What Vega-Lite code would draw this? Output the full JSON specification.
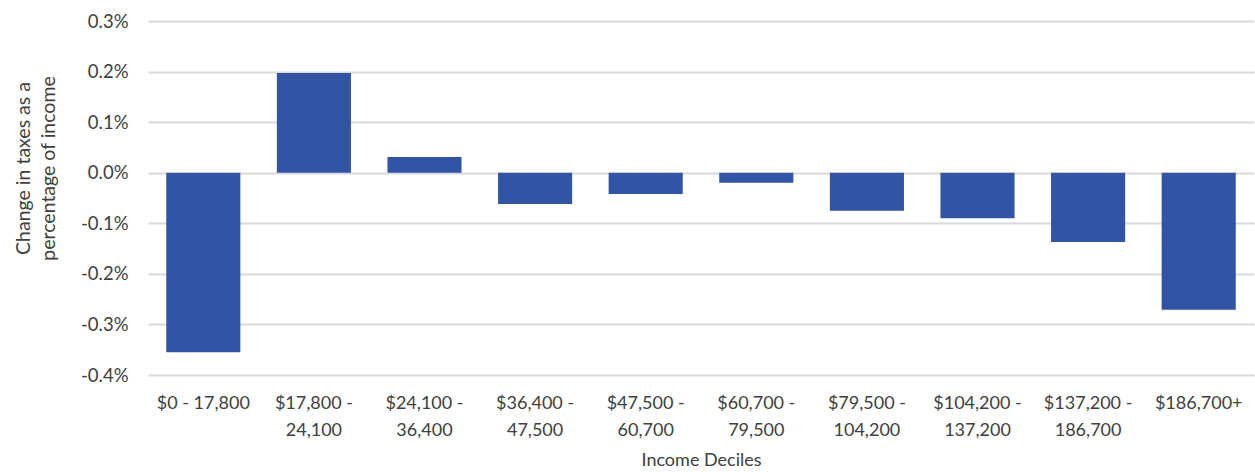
{
  "$schema": "https://vega.github.io/schema/vega-lite/v6.json",
  "autosize": {"type": "none"},
  "padding": {"left": 148, "top": 21, "right": 1, "bottom": 97},
  "width": 1106,
  "height": 354,
  "background": "white",
  "config": {
    "font": "Lato",
    "view": {"stroke": null}
  },
  "data": {
    "values": [
      {"decile": "$0 - 17,800", "change": -0.00355},
      {"decile": "$17,800 - 24,100", "change": 0.00197},
      {"decile": "$24,100 - 36,400", "change": 0.00031},
      {"decile": "$36,400 - 47,500", "change": -0.00062},
      {"decile": "$47,500 - 60,700", "change": -0.00042},
      {"decile": "$60,700 - 79,500", "change": -0.0002},
      {"decile": "$79,500 - 104,200", "change": -0.00075},
      {"decile": "$104,200 - 137,200", "change": -0.0009},
      {"decile": "$137,200 - 186,700", "change": -0.00137},
      {"decile": "$186,700+", "change": -0.00271}
    ]
  },
  "mark": {"type": "bar", "color": "#3155A4"},
  "encoding": {
    "x": {
      "field": "decile",
      "type": "nominal",
      "sort": null,
      "scale": {"paddingInner": 0.33, "paddingOuter": 0.165},
      "axis": {
        "title": "Income Deciles",
        "titleFont": "Lato",
        "titleFontSize": 18,
        "titleFontWeight": "normal",
        "titleColor": "#404040",
        "titlePadding": 12,
        "labelAngle": 0,
        "labelFontSize": 18,
        "labelColor": "#404040",
        "labelPadding": 19,
        "labelLineHeight": 27,
        "labelBaseline": "top",
        "labelExpr": "datum.value == '$0 - 17,800' || datum.value == '$186,700+' ? datum.value : split(replace(datum.value, ' - ', ' -|'), '|')",
        "domain": false,
        "ticks": false,
        "grid": false
      }
    },
    "y": {
      "field": "change",
      "type": "quantitative",
      "scale": {"domain": [-0.004, 0.003], "nice": false, "zero": true},
      "axis": {
        "title": ["Change in taxes as a", "percentage of income"],
        "titleFont": "Lato",
        "titleFontSize": 19.5,
        "titleFontWeight": "normal",
        "titleColor": "#404040",
        "titleLineHeight": 25,
        "titlePadding": 22,
        "titleY": 147,
        "values": [-0.004, -0.003, -0.002, -0.001, 0, 0.001, 0.002, 0.003],
        "labelExpr": "replace(format(datum.value, '.1%'), '\u2212', '-')",
        "labelFontSize": 18.5,
        "labelColor": "#404040",
        "labelPadding": 20,
        "domain": false,
        "ticks": false,
        "grid": true,
        "gridColor": "#d9d9d9",
        "gridWidth": 2
      }
    }
  }
}
